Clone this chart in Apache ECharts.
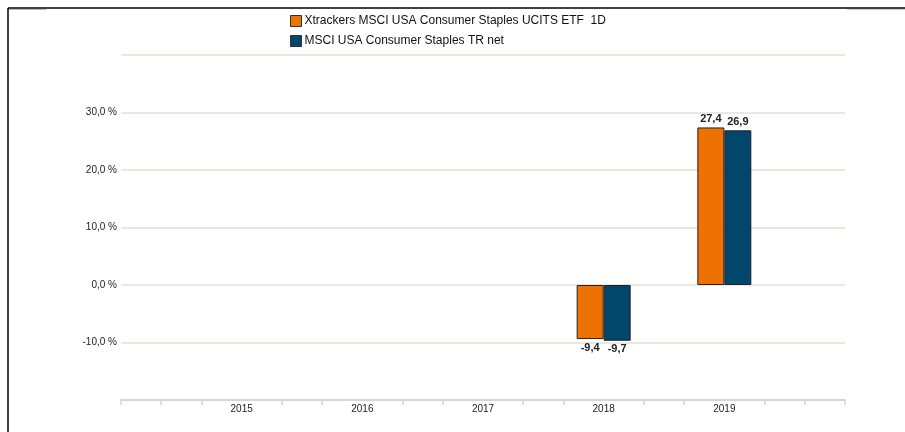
<!DOCTYPE html>
<html>
<head>
<meta charset="utf-8">
<script src="https://cdn.jsdelivr.net/npm/echarts@6/dist/echarts.min.js"></script>
<style>
  html, body { margin: 0; padding: 0; background: #fff; }
  #chart { width: 905px; height: 432px; }
</style>
</head>
<body>
<div id="chart"></div>
<script>
const years = [2015, 2016, 2017, 2018, 2019];
const seriesNames = ['Xtrackers MSCI USA Consumer Staples UCITS ETF  1D', 'MSCI USA Consumer Staples TR net'];
const etfValues = [null, null, null, -9.4, 27.4];
const indexValues = [null, null, null, -9.7, 26.9];
const colors = ['#ee7203', '#00476b'];

// axis runs one year beyond the data on each side, minor ticks every third of a year
const xMin = years[0] - 1;
const xMax = years[years.length - 1] + 1;
const xTicks = [];
for (let y = xMin; y <= xMax; y++) {
  if (y === xMin || y === xMax) xTicks.push(y);
  if (y < xMax) xTicks.push(y + 1 / 3, y + 2 / 3);
}

const fmt = v => v.toFixed(1).replace('.', ',');

const toData = values => years
  .map((y, i) => values[i] == null ? null : {
    value: [y, values[i]],
    label: { position: values[i] < 0 ? 'bottom' : 'top' }
  })
  .filter(Boolean);

const chart = echarts.init(document.getElementById('chart'));

const barSeries = (name, values, color) => ({
  name: name,
  type: 'bar',
  barWidth: 27,
  barGap: '0%',
  data: toData(values),
  itemStyle: { color: color, borderColor: '#222', borderWidth: 1 },
  label: {
    show: true,
    distance: 3,
    fontFamily: 'Liberation Sans, Arial, sans-serif',
    fontSize: 11,
    fontWeight: 'bold',
    color: '#222',
    formatter: p => fmt(p.value[1])
  }
});

chart.setOption({
  animation: false,
  textStyle: { fontFamily: 'Liberation Sans, Arial, sans-serif' },
  grid: { left: 121, right: 60, top: 55, bottom: 32 },
  legend: {
    orient: 'vertical',
    left: 290,
    top: 15,
    padding: 0,
    itemWidth: 11,
    itemHeight: 11,
    itemGap: 8,
    icon: 'rect',
    textStyle: { fontSize: 12, color: '#111', padding: [0, 0, 0, -2] },
    data: seriesNames.map(n => ({ name: n, itemStyle: { borderColor: '#333', borderWidth: 1 } }))
  },
  xAxis: {
    type: 'value',
    min: xMin,
    max: xMax,
    axisLine: { show: true, onZero: false, lineStyle: { color: '#d9d6cf', width: 2 } },
    axisTick: { show: true, customValues: xTicks, length: 5, lineStyle: { color: '#d9d6cf', width: 1.5 } },
    axisLabel: {
      customValues: years,
      margin: 4,
      fontSize: 10,
      color: '#222',
      formatter: v => String(v)
    },
    splitLine: { show: false }
  },
  yAxis: {
    type: 'value',
    min: -20,
    max: 40,
    interval: 10,
    axisLine: { show: false },
    axisTick: { show: false },
    axisLabel: {
      margin: 4,
      fontSize: 10,
      color: '#222',
      formatter: v => (v <= -20 || v >= 40) ? '' : fmt(v) + ' %'
    },
    splitLine: { lineStyle: { color: '#e3e0da', width: 1.5 } }
  },
  graphic: [
    { type: 'line', shape: { x1: 8, y1: 8, x2: 905, y2: 8 }, style: { stroke: '#000', lineWidth: 1.5 } },
    { type: 'line', shape: { x1: 8, y1: 8, x2: 8, y2: 432 }, style: { stroke: '#000', lineWidth: 1.5 } },
    { type: 'line', shape: { x1: 9, y1: 9.5, x2: 46, y2: 9.5 }, style: { stroke: '#bbb', lineWidth: 1 } },
    { type: 'line', shape: { x1: 847, y1: 9.5, x2: 905, y2: 9.5 }, style: { stroke: '#ccc', lineWidth: 1 } }
  ],
  series: [
    barSeries(seriesNames[0], etfValues, colors[0]),
    barSeries(seriesNames[1], indexValues, colors[1])
  ]
});
</script>
</body>
</html>
